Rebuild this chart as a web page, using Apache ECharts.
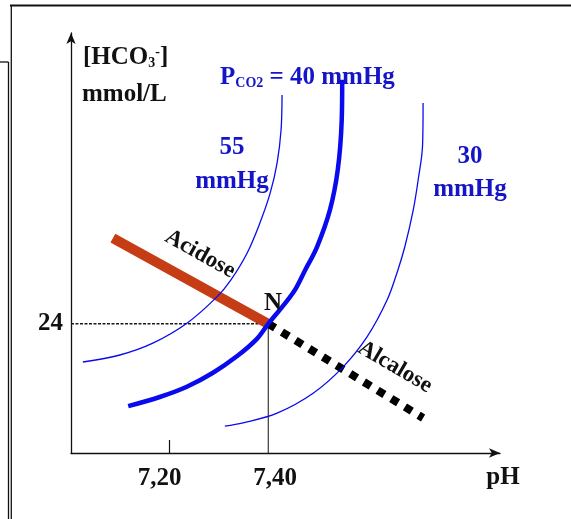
<!DOCTYPE html>
<html><head><meta charset="utf-8">
<script src="https://cdn.jsdelivr.net/npm/echarts@6/dist/echarts.min.js"></script>
<style>html,body{margin:0;padding:0;background:#fff}#c{width:571px;height:519px}</style>
</head><body><div id="c"></div>
<script>
// ---- data (pH, [HCO3-] mmol/L) ----
const xTickValues = [7.2, 7.4];
const xTickLabels = ['7,20', '7,40'];
const yTickValues = [24];
const yTickLabels = ['24'];

const pco2_55 = [[7.024,16.9],[7.099,18.2],[7.166,20.4],[7.235,24.1],[7.296,29.0],[7.324,32.1],[7.357,37.1],[7.383,42.7],[7.404,48.3],[7.418,53.9],[7.426,60.0],[7.428,66.5]];
const pco2_40 = [[7.116,8.7],[7.180,10.4],[7.235,12.3],[7.288,14.9],[7.337,18.0],[7.377,21.2],[7.40,24],[7.450,29.7],[7.475,34.0],[7.499,38.3],[7.525,45.1],[7.541,52.6],[7.549,61.8],[7.550,69.3]];
const pco2_30 = [[7.312,5.0],[7.349,5.6],[7.418,7.4],[7.491,11.1],[7.552,16.0],[7.600,21.5],[7.641,28.4],[7.663,34.0],[7.677,38.3],[7.694,45.1],[7.704,50.7],[7.713,57.2],[7.714,65.0]];
const acidose = [[7.085,39.9],[7.40,24]];
const alcalose = [[7.40,24],[7.714,6.5]];
const normalPoint = [7.40, 24];
const xStart = 7.0;

const SERIF = '"Liberation Serif","Times New Roman",serif';
const BLUE = '#0a0aee';
const BLUE_TXT = '#1414c8';
const RED = '#c63d15';

const chart = echarts.init(document.getElementById('c'), null, {renderer: 'canvas'});

function txt(text, x, y, opts) {
  opts = opts || {};
  return {
    type: 'text', x: x, y: y, rotation: opts.rotation || 0, z: 100,
    style: Object.assign({
      text: text, fill: opts.color || '#111', fontFamily: SERIF, fontWeight: 'bold',
      fontSize: opts.size || 25, align: opts.align || 'center', verticalAlign: 'middle',
      lineHeight: opts.lineHeight
    }, opts.extra || {})
  };
}
function seg(x1, y1, x2, y2, w) {
  return {type: 'line', shape: {x1: x1, y1: y1, x2: x2, y2: y2}, style: {stroke: '#111', lineWidth: w}};
}

const option = {
  animation: false,
  backgroundColor: '#fff',
  grid: {left: 71, right: 71, top: 33, bottom: 66},
  xAxis: {
    type: 'value', min: 7.0, max: 7.87,
    splitLine: {show: false},
    axisLine: {lineStyle: {color: '#111', width: 1.3}, symbol: ['none', 'arrow'], symbolSize: [7, 11]},
    axisTick: {show: true, inside: true, length: 13, customValues: [xTickValues[0]], lineStyle: {color: '#111', width: 1.2}},
    axisLabel: {
      customValues: xTickValues, margin: 13,
      formatter: function (v) {
        const i = xTickValues.findIndex(t => Math.abs(t - v) < 1e-6);
        return i === 0 ? '{l|' + xTickLabels[0] + '}' : '{r|' + xTickLabels[1] + '}';
      },
      rich: {
        l: {fontFamily: SERIF, fontWeight: 'bold', fontSize: 25, color: '#111', padding: [0, 20, 0, 0]},
        r: {fontFamily: SERIF, fontWeight: 'bold', fontSize: 25, color: '#111', padding: [0, 0, 0, 14]}
      }
    }
  },
  yAxis: {
    type: 'value', min: 0, max: 78,
    splitLine: {show: false},
    axisLine: {show: true, lineStyle: {color: '#111', width: 1.3}, symbol: ['none', 'arrow'], symbolSize: [7, 11]},
    axisTick: {show: false},
    axisLabel: {
      customValues: yTickValues, margin: 8,
      formatter: function (v) { return yTickLabels[yTickValues.indexOf(v)] || ''; },
      fontFamily: SERIF, fontWeight: 'bold', fontSize: 25, color: '#111'
    }
  },
  series: [
    {type: 'line', data: [[xStart, normalPoint[1]], normalPoint], symbol: 'none',
     lineStyle: {color: '#1a1a1a', width: 1.7, type: [3, 1.5]}, z: 1},
    {type: 'line', data: [[normalPoint[0], 0], normalPoint], symbol: 'none',
     lineStyle: {color: '#111', width: 1}, z: 1},
    {type: 'line', data: acidose, symbol: 'none', lineStyle: {color: RED, width: 10, cap: 'butt'}, z: 2},
    {type: 'line', data: alcalose, symbol: 'none', lineStyle: {color: '#000', width: 8, type: [8, 8], cap: 'butt'}, z: 2},
    {type: 'line', data: pco2_55, smooth: 0.35, symbol: 'none', lineStyle: {color: BLUE, width: 1.3}, z: 3},
    {type: 'line', data: pco2_40, smooth: 0.35, symbol: 'none', lineStyle: {color: BLUE, width: 4.5}, z: 3},
    {type: 'line', data: pco2_30, smooth: 0.35, symbol: 'none', lineStyle: {color: BLUE, width: 1.3}, z: 3}
  ],
  graphic: [
    seg(10, 5.5, 571, 5.5, 2),
    seg(11.3, 5, 11.3, 519, 1.3),
    seg(8.5, 62, 8.5, 519, 1.3),
    seg(0, 62, 8.5, 62, 1.3),
    txt('[HCO{sub|3}{sup|-}]', 83, 58, {align: 'left', extra: {rich: {
      sub: {fontFamily: SERIF, fontWeight: 'bold', fontSize: 14, fill: '#111', verticalAlign: 'bottom', lineHeight: 14},
      sup: {fontFamily: SERIF, fontWeight: 'bold', fontSize: 14, fill: '#111', verticalAlign: 'top', lineHeight: 14}
    }}}),
    txt('mmol/L', 82, 95, {align: 'left'}),
    txt('P{sub|CO2} = 40 mmHg', 220, 78, {align: 'left', color: BLUE_TXT, extra: {rich: {
      sub: {fontFamily: SERIF, fontWeight: 'bold', fontSize: 14, fill: BLUE_TXT, verticalAlign: 'bottom', lineHeight: 14}
    }}}),
    txt('55\nmmHg', 232, 165, {color: BLUE_TXT, lineHeight: 34}),
    txt('30\nmmHg', 470, 173, {color: BLUE_TXT, lineHeight: 33}),
    txt('Acidose', 200, 254, {size: 23, rotation: -0.51}),
    txt('Alcalose', 395, 367, {size: 23, rotation: -0.53}),
    txt('N', 273, 304),
    txt('pH', 503, 478)
  ]
};
chart.setOption(option);
</script>
</body></html>
